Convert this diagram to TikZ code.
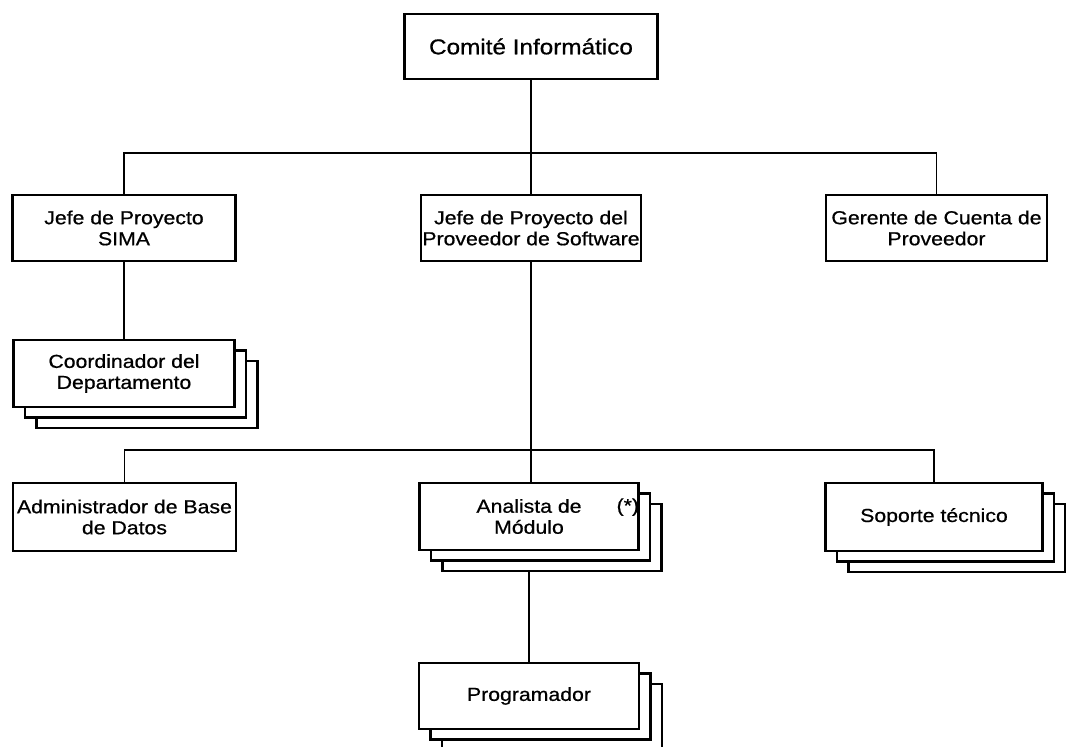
\documentclass[tikz,border=0pt]{standalone}
\usepackage{fontspec}
\setmainfont{Liberation Sans}[FakeStretch=1.13, FakeBold=0.7]
\usetikzlibrary{shadows,backgrounds}
\newcommand\boxfont{\fontsize{18.8}{21}\selectfont}
\newcommand\topfont{\fontsize{21.5}{24}\selectfont}
\tikzset{
  unit/.style={draw, fill=white, line width=2.4pt, inner sep=0pt, align=center,
    font=\boxfont, minimum width=#1, minimum height=66pt},
  unit/.default=220pt,
  stack/.style={unit=#1,
    copy shadow={shadow xshift=23pt, shadow yshift=-21pt},
    copy shadow={shadow xshift=11.5pt, shadow yshift=-10.5pt}},
  stack/.default=220pt,
  link/.style={line width=1.8pt}
}
\begin{document}
\begin{tikzpicture}[x=1pt, y=-1pt]
\useasboundingbox (0,0) rectangle (1066,747);

% top level
\node[unit=253pt, font=\topfont, minimum height=65pt] (com) at (531,46.5) {Comité Informático};

% second level
\node[unit=223pt] (js) at (124,228) {Jefe de Proyecto\\SIMA};
\node[unit=220pt] (jp) at (531,228) {Jefe de Proyecto del\\Proveedor de Software};
\node[unit=221pt] (gc) at (936.5,228) {Gerente de Cuenta de\\Proveedor};

% under SIMA
\node[stack=221pt, minimum height=67pt] (co) at (124,373.5) {Coordinador del\\Departamento};

% third level
\node[unit=223pt, minimum height=68pt] (ad) at (124.5,517) {Administrador de Base\\de Datos};
\node[stack=219pt, minimum height=67pt] (an) at (529,516.5) {Analista de\\Módulo};
\node[font=\boxfont, inner sep=0pt, anchor=base east] (ast) at ([xshift=-0.5pt, yshift=4.5pt]an.east) {(*)};
\node[stack=217pt, minimum height=68pt] (so) at (934,517) {Soporte técnico};

% bottom
\node[stack=220pt] (pr) at (529,696) {Programador};

% connectors
\coordinate (b1) at (531,153);
\coordinate (b2) at (531,450);
\begin{scope}[on background layer]
  \draw[link] (com.south) -- (jp.north);
  \draw[link] (js.north) |- (b1) -| (gc.north);
  \draw[link] (js.south) -- (co.north);
  \draw[link] (jp.south) -- (an.north -| jp.south);
  \draw[link] (ad.north) |- (b2) -| (so.north);
  \draw[link] (an.south) -- (pr.north);
\end{scope}
\end{tikzpicture}
\end{document}
